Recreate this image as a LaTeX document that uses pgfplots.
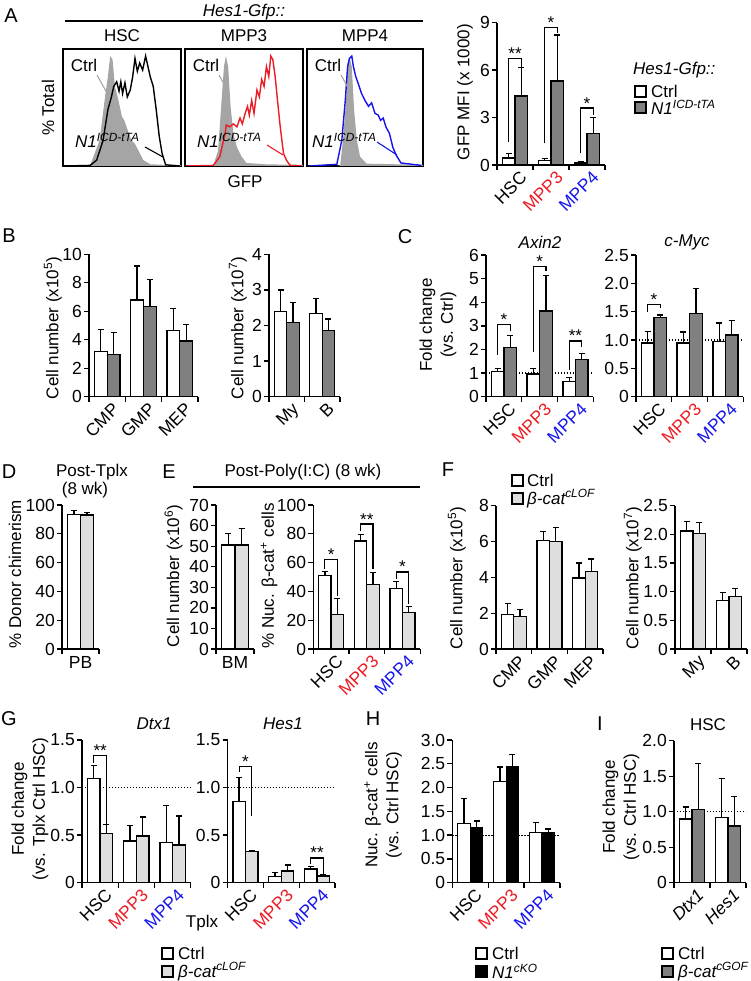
\documentclass[border=0pt]{standalone}
\usepackage{pgfplots}
\pgfplotsset{compat=1.18}
\usepackage{fontspec}
\setmainfont{Liberation Sans}
\definecolor{mred}{RGB}{235,28,36}
\definecolor{mblue}{RGB}{20,20,235}
\definecolor{dgray}{RGB}{128,128,128}
\definecolor{lgray}{RGB}{222,222,222}
\definecolor{hgray}{RGB}{165,165,165}
\newcommand\fs{\fontsize{17}{19}\selectfont}
\newcommand\ft{\fontsize{17.5}{19}\selectfont}
\newcommand\fl{\fontsize{17}{21}\selectfont}
\newcommand\fp{\fontsize{20}{22}\selectfont}
\newcommand\R[1]{\textcolor{mred}{#1}}
\newcommand\B[1]{\textcolor{mblue}{#1}}
\pgfplotsset{
 bp/.style={scale only axis, anchor=south west, axis lines*=left, clip=false,
   axis line style={line width=1.3pt},
   tick align=outside, major tick length=5pt, minor tick length=5pt,
   tick style={black, line width=1.3pt},
   major x tick style={draw=none},
   ymin=0, enlargelimits=false,
   tick label style={font=\ft},
   yticklabel style={inner sep=2pt}},
 rx/.style={xticklabel style={rotate=45, anchor=north east, inner sep=0pt, xshift=3pt, yshift=-3pt}},
 fx/.style={xticklabel style={anchor=north, inner sep=2pt}},
 cb/.style={ybar, bar width=0.35, bar shift=0pt, fill=white, draw=black, line width=1.3pt,
   error bars/.cd, y dir=plus, y explicit, error bar style={line width=1.3pt},
   error mark options={rotate=90, line width=1.3pt, mark size=3pt, black}},
 gb/.style={ybar, bar width=0.35, bar shift=0pt, fill=#1, draw=black, line width=1.3pt,
   error bars/.cd, y dir=plus, y explicit, error bar style={line width=1.3pt},
   error mark options={rotate=90, line width=1.3pt, mark size=3pt, black}},
 c3/.style={xmin=-0.5, xmax=2.5, xtick={0,1,2}, minor xtick={-0.5,0.5,1.5,2.5}},
 c2/.style={xmin=-0.5, xmax=1.5, xtick={0,1}, minor xtick={-0.5,0.5,1.5}},
 c1/.style={xmin=-0.5, xmax=0.5, xtick={0}, minor xtick={-0.5,0.5}},
 mpp/.style={rx, xticklabels={HSC,\R{MPP3},\B{MPP4}}},
 hist/.style={scale only axis, anchor=south west, xmin=0, xmax=100, ymin=0, ymax=100,
   xtick=\empty, ytick=\empty, axis line style={line width=1.3pt}, height=117pt},
}
\tikzset{br/.style={line width=1.2pt}, st/.style={font=\fs, anchor=base, inner sep=0pt, yshift=-1pt},
  dl/.style={line width=1.2pt, dash pattern=on 1.2pt off 1.8pt}}
\newcommand\lsq[3]{\draw[line width=1.1pt, fill=#3] (#1,-#2) rectangle ++(11,-11);}
\begin{document}
\begin{tikzpicture}[x=1pt,y=1pt]
\useasboundingbox (0,0) rectangle (750,-981);
% ---------------- Panel A histograms
\begin{axis}[hist, at={(63pt,-166pt)}, width=118pt]
\addplot[fill=hgray, draw=none] coordinates {(20,0) (23,0.5) (31,22) (36,62) (38,76) (40,94) (42,91) (44,68) (47,56) (50,42) (52,39) (54,33) (58,22) (61,19) (64,13) (68,5) (74,1.5) (85,1) (100,0.8)} \closedcycle;
\addplot[black, line width=1.4pt] coordinates {(1,0) (23,0.5) (28.5,5) (34,22) (38,48) (41,59) (43,68) (45.5,72) (47.5,64) (49,72) (50.5,62) (52.5,71) (54.5,59) (57,65) (59,76) (61,92) (63,81) (65,88) (67.5,82) (70,94) (72,85) (74,76) (76.5,68) (79,48) (81.6,25) (84,10.6) (87,1) (99,0)};
\end{axis}
\begin{axis}[hist, at={(185pt,-166pt)}, width=118pt]
\addplot[fill=hgray, draw=none] coordinates {(22,0) (24,0.5) (28,13) (31,56) (33,85) (34.7,94) (36.6,85) (38.6,51) (41,28) (44,16) (48,8) (52,2.6) (69,1.4) (100,1)} \closedcycle;
\addplot[mred, line width=1.4pt] coordinates {(1,0) (24,0.5) (29.5,8) (34,28) (35,35) (38,33.5) (41,36) (44,33.5) (46.6,41) (48.6,36) (51,45) (53,51) (54.5,43.5) (56.5,56) (58.5,45) (61,65) (63,59) (65,74) (67,68) (69,85) (71,76.5) (72.7,94) (74.4,91) (76.4,76.5) (78.4,56) (80.7,33.5) (83.5,10.6) (86,5) (89,0.5) (99,0)};
\end{axis}
\begin{axis}[hist, at={(307pt,-166pt)}, width=116pt]
\addplot[fill=hgray, draw=none] coordinates {(26,0) (28.6,0.5) (31,22) (33.7,56) (35,88) (36.6,93) (38.6,85) (40.6,48) (43,22) (45.7,8) (51.4,2) (100,1)} \closedcycle;
\addplot[mblue, line width=1.4pt] coordinates {(1.4,0) (25.7,1.4) (30,22) (33,56) (35,85) (36.6,92) (38.6,94) (40,85) (42,76.5) (44,71) (47,62) (50,56) (53,51) (55.7,54) (58.6,45) (61.4,43.5) (63.4,39) (65.7,41) (68,33.5) (71,28) (74,16) (77,9) (81,2.6) (98.6,0.5)};
\end{axis}
\node[font=\fp] at (11,-16) {A};
\node[font=\fs\itshape] at (244,-12) {Hes1-Gfp::};
\draw[line width=1.3pt] (65,-21) -- (423,-21);
\node[font=\fs] at (122,-36) {HSC};
\node[font=\fs] at (244,-36) {MPP3};
\node[font=\fs] at (365,-36) {MPP4};
\node[font=\fs, rotate=90] at (48,-108) {\% Total};
\node[font=\fs] at (245,-182) {GFP};
\foreach \dx in {0,122,244} {
  \draw[hgray, line width=1.1pt] (97+\dx,-75) -- (107+\dx,-93);
}
\node[font=\fs] at (84,-65) {Ctrl};
\node[font=\fs] at (206,-65) {Ctrl};
\node[font=\fs] at (328,-65) {Ctrl};
\node[font=\fs\itshape, anchor=base west, inner sep=0pt] at (75,-148) {N1\textsuperscript{ICD-tTA}};
\node[font=\fs\itshape, anchor=base west, inner sep=0pt] at (197,-148) {N1\textsuperscript{ICD-tTA}};
\node[font=\fs\itshape, anchor=base west, inner sep=0pt] at (312,-148) {N1\textsuperscript{ICD-tTA}};
\draw[black, line width=1.1pt] (145,-147) -- (163,-157);
\draw[mred, line width=1.1pt] (267,-145) -- (283,-155);
\draw[mblue, line width=1.1pt] (377,-142) -- (397,-155);
% ---------------- Panel A bars
\begin{axis}[bp, c3, mpp, at={(497pt,-165pt)}, width=108pt, height=142.3pt, ymax=9, ytick={0,3,6,9}, yticklabels={0,3,6,9}]
\addplot[cb] coordinates {(-0.175,0.45) +- (0,0.29) (0.825,0.27) +- (0,0.15) (1.825,0.13) +- (0,0.06)};
\addplot[gb=dgray] coordinates {(0.175,4.37) +- (0,1.81) (1.175,5.32) +- (0,2.91) (2.175,2.0) +- (0,1.0)};
\draw[br] (axis cs:-0.175,1.47) |- (axis cs:0.175,6.75) -- (axis cs:0.175,6.22);
\node[st] at (axis cs:0,6.75) {**};
\draw[br] (axis cs:0.825,1.37) |- (axis cs:1.175,8.68) -- (axis cs:1.175,8.33);
\node[st] at (axis cs:1,8.68) {*};
\draw[br] (axis cs:1.825,0.74) |- (axis cs:2.175,3.6) -- (axis cs:2.175,3.15);
\node[st] at (axis cs:2,3.6) {*};
\end{axis}
\node[font=\fs, rotate=90] at (465,-92) {GFP MFI (x 1000)};
\node[font=\fs\itshape, anchor=west, inner sep=0pt] at (633,-70) {Hes1-Gfp::};
\lsq{635}{86}{white}
\node[font=\fs, anchor=west, inner sep=0pt] at (651,-91.5) {Ctrl};
\lsq{635}{102}{dgray}
\node[font=\fs\itshape, anchor=west, inner sep=0pt] at (651,-107.5) {N1\textsuperscript{ICD-tTA}};
% ---------------- Panel B
\node[font=\fp] at (9,-236) {B};
\begin{axis}[bp, c3, rx, at={(89pt,-396.7pt)}, width=109pt, height=142.4pt, ymax=10, ytick={0,2,4,6,8,10}, yticklabels={0,2,4,6,8,10}, xticklabels={CMP,GMP,MEP}]
\addplot[cb] coordinates {(-0.175,3.16) +- (0,1.57) (0.825,6.79) +- (0,2.39) (1.825,4.64) +- (0,1.56)};
\addplot[gb=dgray] coordinates {(0.175,2.97) +- (0,1.53) (1.175,6.32) +- (0,1.92) (2.175,3.91) +- (0,1.17)};
\end{axis}
\node[font=\fs, rotate=90] at (53,-328) {Cell number (x10\textsuperscript{5})};
\begin{axis}[bp, c2, rx, at={(269pt,-396.7pt)}, width=71pt, height=142.4pt, ymax=4, ytick={0,1,2,3,4}, yticklabels={0,1,2,3,4}, xticklabels={My,B}]
\addplot[cb] coordinates {(-0.175,2.39) +- (0,0.61) (0.825,2.34) +- (0,0.42)};
\addplot[gb=dgray] coordinates {(0.175,2.08) +- (0,0.57) (1.175,1.85) +- (0,0.33)};
\end{axis}
\node[font=\fs, rotate=90] at (238,-328) {Cell number (x10\textsuperscript{7})};
% ---------------- Panel C
\node[font=\fp] at (405,-237) {C};
\node[font=\fs\itshape] at (540,-242) {Axin2};
\node[font=\fs\itshape] at (687,-242) {c-Myc};
\begin{axis}[bp, c3, mpp, at={(486pt,-396.7pt)}, width=107.3pt, height=141.7pt, ymax=6, ytick={0,1,2,3,4,5,6}, yticklabels={0,1,2,3,4,5,6}]
\draw[dl] (axis cs:-0.5,1) -- (axis cs:2.5,1);
\addplot[cb] coordinates {(-0.175,1.06) +- (0,0.14) (0.825,0.96) +- (0,0.24) (1.825,0.64) +- (0,0.16)};
\addplot[gb=dgray] coordinates {(0.175,2.08) +- (0,0.5) (1.175,3.63) +- (0,1.49) (2.175,1.58) +- (0,0.26)};
\draw[br] (axis cs:-0.175,1.76) |- (axis cs:0.175,3.06) -- (axis cs:0.175,2.79);
\node[st] at (axis cs:0,3.06) {*};
\draw[br] (axis cs:0.825,1.9) |- (axis cs:1.175,5.5) -- (axis cs:1.175,5.34);
\node[st] at (axis cs:1,5.5) {*};
\draw[br] (axis cs:1.825,1.13) |- (axis cs:2.175,2.36) -- (axis cs:2.175,2.12);
\node[st] at (axis cs:2,2.36) {**};
\end{axis}
\node[font=\fl, rotate=90, align=center] at (438,-325) {Fold change\\(vs. Ctrl)};
\begin{axis}[bp, c3, mpp, at={(636pt,-396.7pt)}, width=107.3pt, height=141.7pt, ymax=2.5, ytick={0,0.5,1,1.5,2,2.5}, yticklabels={0,0.5,1.0,1.5,2.0,2.5}]
\draw[dl] (axis cs:-0.5,1) -- (axis cs:2.5,1);
\addplot[cb] coordinates {(-0.175,0.95) +- (0,0.2) (0.825,0.95) +- (0,0.19) (1.825,0.97) +- (0,0.33)};
\addplot[gb=dgray] coordinates {(0.175,1.4) +- (0,0.04) (1.175,1.47) +- (0,0.44) (2.175,1.09) +- (0,0.25)};
\draw[br] (axis cs:-0.175,1.5) |- (axis cs:0.175,1.63) -- (axis cs:0.175,1.56);
\node[st] at (axis cs:0,1.63) {*};
\end{axis}
% ---------------- Panel D
\node[font=\fp] at (9,-472) {D};
\node[font=\fs] at (92,-472) {Post-Tplx};
\node[font=\fs] at (85,-490) {(8 wk)};
\begin{axis}[bp, c1, fx, at={(62pt,-649pt)}, width=37pt, height=144pt, ymax=100, ytick={0,20,40,60,80,100}, yticklabels={0,20,40,60,80,100}, xticklabels={PB}]
\addplot[cb] coordinates {(-0.175,93.5) +- (0,2.5)};
\addplot[gb=lgray] coordinates {(0.175,93) +- (0,1.8)};
\end{axis}
\node[font=\fs, rotate=90] at (15,-574) {\% Donor chimerism};
% ---------------- Panel E
\node[font=\fp] at (169,-472) {E};
\node[font=\fs] at (303,-472) {Post-Poly(I:C) (8 wk)};
\draw[line width=1.3pt] (193,-487) -- (420,-487);
\begin{axis}[bp, c1, fx, at={(216pt,-649pt)}, width=38pt, height=144pt, ymax=70, ytick={0,10,20,30,40,50,60,70}, yticklabels={0,10,20,30,40,50,60,70}, xticklabels={BM}]
\addplot[cb] coordinates {(-0.175,50.5) +- (0,5.8)};
\addplot[gb=lgray] coordinates {(0.175,50.5) +- (0,8.2)};
\end{axis}
\node[font=\fs, rotate=90] at (173.5,-576) {Cell number (x10\textsuperscript{6})};
\begin{axis}[bp, c3, mpp, at={(313.3pt,-649pt)}, width=107pt, height=144pt, ymax=100, ytick={0,20,40,60,80,100}, yticklabels={0,20,40,60,80,100}]
\addplot[cb] coordinates {(-0.175,51) +- (0,3) (0.825,75) +- (0,4.3) (1.825,42.2) +- (0,4.7)};
\addplot[gb=lgray] coordinates {(0.175,24) +- (0,11) (1.175,44.6) +- (0,8.4) (2.175,25.3) +- (0,4.3)};
\draw[br] (axis cs:-0.175,55.8) |- (axis cs:0.175,62.4) -- (axis cs:0.175,37);
\node[st] at (axis cs:0,62.4) {*};
\draw[br] (axis cs:0.825,81.7) |- (axis cs:1.175,86.8) -- (axis cs:1.175,55.8);
\node[st] at (axis cs:1,86.8) {**};
\draw[br] (axis cs:1.825,48.8) |- (axis cs:2.175,53.5) -- (axis cs:2.175,31);
\node[st] at (axis cs:2,53.5) {*};
\end{axis}
\node[font=\fs, rotate=90] at (269,-576) {\% Nuc. β-cat\textsuperscript{+} cells};
% ---------------- Panel F
\node[font=\fp] at (448,-470) {F};
\lsq{512}{475}{white}
\node[font=\fs, anchor=west, inner sep=0pt] at (527,-480.5) {Ctrl};
\lsq{512}{493}{lgray}
\node[font=\fs\itshape, anchor=west, inner sep=0pt] at (527,-498.5) {β-cat\textsuperscript{cLOF}};
\begin{axis}[bp, c3, rx, at={(496pt,-649pt)}, width=107pt, height=143.3pt, ymax=8, ytick={0,2,4,6,8}, yticklabels={0,2,4,6,8}, xticklabels={CMP,GMP,MEP}]
\addplot[cb] coordinates {(-0.175,1.92) +- (0,0.61) (0.825,6.07) +- (0,0.5) (1.825,3.96) +- (0,0.84)};
\addplot[gb=lgray] coordinates {(0.175,1.82) +- (0,0.38) (1.175,6.01) +- (0,0.78) (2.175,4.34) +- (0,0.69)};
\end{axis}
\node[font=\fs, rotate=90] at (457,-578) {Cell number (x10\textsuperscript{5})};
\begin{axis}[bp, c2, rx, at={(675pt,-649pt)}, width=72pt, height=143.3pt, ymax=2.5, ytick={0,0.5,1,1.5,2,2.5}, yticklabels={0,0.5,1.0,1.5,2.0,2.5}, xticklabels={My,B}]
\addplot[cb] coordinates {(-0.175,2.06) +- (0,0.16) (0.825,0.85) +- (0,0.13)};
\addplot[gb=lgray] coordinates {(0.175,2.02) +- (0,0.19) (1.175,0.91) +- (0,0.14)};
\end{axis}
\node[font=\fs, rotate=90] at (633,-578) {Cell number (x10\textsuperscript{7})};
% ---------------- Panel G
\node[font=\fp] at (9,-719) {G};
\node[font=\fs\itshape] at (154,-724) {Dtx1};
\node[font=\fs\itshape] at (283,-724) {Hes1};
\begin{axis}[bp, c3, mpp, at={(82pt,-882.7pt)}, width=108.7pt, height=142.7pt, ymax=1.5, ytick={0,0.5,1,1.5}, yticklabels={0,0.5,1.0,1.5}]
\draw[dl] (axis cs:-0.5,1) -- (axis cs:2.5,1);
\addplot[cb] coordinates {(-0.175,1.095) +- (0,0.135) (0.825,0.44) +- (0,0.16) (1.825,0.42) +- (0,0.395)};
\addplot[gb=lgray] coordinates {(0.175,0.52) +- (0,0.09) (1.175,0.49) +- (0,0.2) (2.175,0.395) +- (0,0.305)};
\draw[br] (axis cs:-0.175,1.26) |- (axis cs:0.175,1.335) -- (axis cs:0.175,0.62);
\node[st] at (axis cs:0,1.335) {**};
\end{axis}
\begin{axis}[bp, c3, mpp, at={(227.5pt,-882.7pt)}, width=107.5pt, height=142.7pt, ymax=1.5, ytick={0,0.5,1,1.5}, yticklabels={0,0.5,1.0,1.5}]
\draw[dl] (axis cs:-0.5,1) -- (axis cs:2.5,1);
\addplot[cb] coordinates {(-0.175,0.85) +- (0,0.255) (0.825,0.063) +- (0,0.042) (1.825,0.144) +- (0,0.024)};
\addplot[gb=lgray] coordinates {(0.175,0.325) +- (0,0.01) (1.175,0.123) +- (0,0.063) (2.175,0.07) +- (0,0.01)};
\draw[br] (axis cs:-0.175,1.165) |- (axis cs:0.175,1.22) -- (axis cs:0.175,0.7);
\node[st] at (axis cs:0,1.22) {*};
\draw[br] (axis cs:1.825,0.2) |- (axis cs:2.175,0.26) -- (axis cs:2.175,0.09);
\node[st] at (axis cs:2,0.26) {**};
\end{axis}
\node[font=\fl, rotate=90, align=center] at (30,-809) {Fold change\\(vs. Tplx Ctrl HSC)};
\node[font=\fs] at (202,-923) {Tplx};
\lsq{162}{948}{white}
\node[font=\fs, anchor=west, inner sep=0pt] at (178,-953.5) {Ctrl};
\lsq{162}{966}{lgray}
\node[font=\fs\itshape, anchor=west, inner sep=0pt] at (178,-971.5) {β-cat\textsuperscript{cLOF}};
% ---------------- Panel H
\node[font=\fp] at (373,-719) {H};
\begin{axis}[bp, c3, mpp, at={(452.3pt,-882.7pt)}, width=107.7pt, height=142.7pt, ymax=3, ytick={0,0.5,1,1.5,2,2.5,3}, yticklabels={0,0.5,1.0,1.5,2.0,2.5,3.0}]
\draw[dl] (axis cs:-0.5,1) -- (axis cs:2.5,1);
\addplot[cb] coordinates {(-0.175,1.25) +- (0,0.52) (0.825,2.13) +- (0,0.3) (1.825,1.05) +- (0,0.22)};
\addplot[gb=black] coordinates {(0.175,1.15) +- (0,0.15) (1.175,2.44) +- (0,0.26) (2.175,1.05) +- (0,0.08)};
\end{axis}
\node[font=\fl, rotate=90, align=center] at (383,-805) {Nuc. β-cat\textsuperscript{+} cells\\(vs. Ctrl HSC)};
\lsq{476}{948}{white}
\node[font=\fs, anchor=west, inner sep=0pt] at (492,-953.5) {Ctrl};
\lsq{476}{966}{black}
\node[font=\fs\itshape, anchor=west, inner sep=0pt] at (492,-971.5) {N1\textsuperscript{cKO}};
% ---------------- Panel I
\node[font=\fp] at (600,-724) {I};
\node[font=\fs] at (708,-725) {HSC};
\begin{axis}[bp, c2, rx, at={(674pt,-882.7pt)}, width=72pt, height=142pt, ymax=2, ytick={0,0.5,1,1.5,2}, yticklabels={0,0.5,1.0,1.5,2.0}, xticklabels={\textit{Dtx1},\textit{Hes1}}]
\draw[dl] (axis cs:-0.5,1) -- (axis cs:1.5,1);
\addplot[cb] coordinates {(-0.175,0.897) +- (0,0.17) (0.825,0.92) +- (0,0.55)};
\addplot[gb=dgray] coordinates {(0.175,1.03) +- (0,0.65) (1.175,0.80) +- (0,0.41)};
\end{axis}
\node[font=\fl, rotate=90, align=center] at (621,-807) {Fold change\\(vs. Ctrl HSC)};
\lsq{662}{948}{white}
\node[font=\fs, anchor=west, inner sep=0pt] at (678,-953.5) {Ctrl};
\lsq{662}{966}{dgray}
\node[font=\fs\itshape, anchor=west, inner sep=0pt] at (678,-971.5) {β-cat\textsuperscript{cGOF}};
\end{tikzpicture}
\end{document}
